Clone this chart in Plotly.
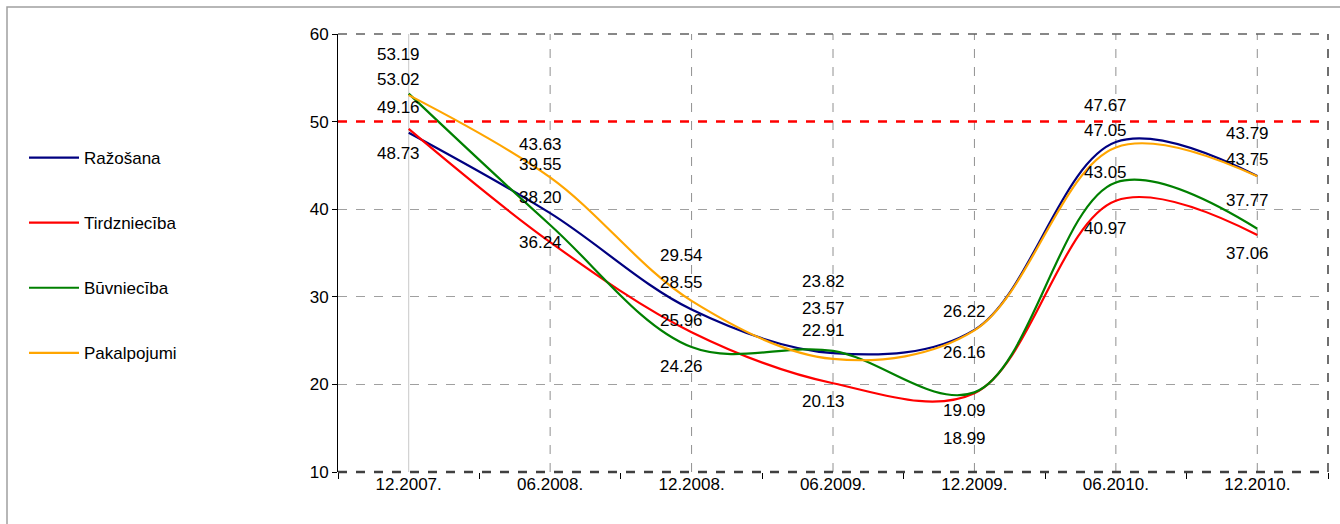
import plotly.graph_objects as go

categories = ["12.2007.", "06.2008.", "12.2008.", "06.2009.", "12.2009.", "06.2010.", "12.2010."]
razosana = [48.73, 39.55, 28.55, 23.57, 26.22, 47.67, 43.79]
tirdznieciba = [49.16, 36.24, 25.96, 20.13, 18.99, 40.97, 37.06]
buvnieciba = [53.19, 38.20, 24.26, 23.82, 19.09, 43.05, 37.77]
pakalpojumi = [53.02, 43.63, 29.54, 22.91, 26.16, 47.05, 43.75]
threshold = 50

series = [
    ("Ražošana", razosana, "#000080"),
    ("Tirdzniecība", tirdznieciba, "#FF0000"),
    ("Būvniecība", buvnieciba, "#008000"),
    ("Pakalpojumi", pakalpojumi, "#FFA500"),
]

# label vertical offsets in pixels (style only)
label_shift = {
    "Ražošana": [-21, 49, 27, 45, 18, 37, 43],
    "Tirdzniecība": [21, 0, 12, -18, -45, -28, -19],
    "Būvniecība": [39, 27, -19, 69, -18, 10, 28],
    "Pakalpojumi": [16, 33, 45, 28, -22, 17, 17],
}

FONT = "Liberation Sans, Arial, sans-serif"
FS = 17
fig = go.Figure()
for name, vals, col in series:
    fig.add_trace(go.Scatter(
        x=categories, y=vals, name=name, mode="lines",
        line=dict(color=col, width=2.2, shape="spline", smoothing=1.0),
        legendgroup=name,
    ))

annotations = []
for name, vals, col in series:
    for c, v, s in zip(categories, vals, label_shift[name]):
        annotations.append(dict(
            x=c, y=v, text=f"{v:.2f}", showarrow=False, xref="x", yref="y",
            yshift=s, xshift=-10, font=dict(family=FONT, size=FS, color="#000"),
        ))

shapes = []
for i, c in enumerate(categories):
    shapes.append(dict(type="line", xref="x", yref="paper", x0=c, x1=c, y0=0, y1=1,
                       line=dict(color="#C8C8C8" if i == 0 else "#909090", width=1,
                                 dash="solid" if i == 0 else "dash"), layer="below"))
shapes.append(dict(type="line", xref="paper", yref="paper", x0=0, x1=1, y0=1, y1=1,
                   line=dict(color="#606060", width=1.5, dash="dash")))
shapes.append(dict(type="line", xref="paper", yref="paper", x0=1, x1=1, y0=0, y1=1,
                   line=dict(color="#404040", width=1.5, dash="dash")))
shapes.append(dict(type="line", xref="paper", yref="paper", x0=0, x1=1, y0=0, y1=0,
                   line=dict(color="#404040", width=2.5, dash="dash")))
shapes.append(dict(type="line", xref="paper", yref="y", x0=0, x1=1, y0=threshold, y1=threshold,
                   line=dict(color="#FF0000", width=2.5, dash="dash")))
W, H = 1340, 524
L, R, T, B = 338, 12, 34, 52
pw, ph = W - L - R, H - T - B
shapes.append(dict(type="rect", xref="paper", yref="paper",
                   x0=(7 - L) / pw, x1=(W + 5 - L) / pw,
                   y0=(H - B - (H + 5)) / ph, y1=(H - B - 7) / ph,
                   line=dict(color="#A0A0A0", width=1.5), layer="below"))

fig.update_layout(
    width=W, height=H,
    margin=dict(l=L, r=R, t=T, b=B),
    paper_bgcolor="white", plot_bgcolor="white",
    font=dict(family=FONT, size=FS, color="#000"),
    showlegend=True,
    legend=dict(x=(24 - L) / pw, y=(H - B - 140) / ph, xanchor="left", yanchor="top",
                tracegroupgap=40, itemwidth=50, font=dict(family=FONT, size=FS),
                bgcolor="rgba(0,0,0,0)"),
    xaxis=dict(type="category", showgrid=False, showline=False, ticks="outside",
               tickson="boundaries", ticklen=6, tickcolor="#000", range=[-0.5, 6.5],
               tickfont=dict(size=FS), zeroline=False),
    yaxis=dict(range=[10, 60], dtick=10, showgrid=True, gridcolor="#A0A0A0", griddash="dash",
               showline=True, linecolor="#000", linewidth=1, ticks="outside", ticklen=5,
               tickcolor="#000", zeroline=False, tickfont=dict(size=FS)),
    shapes=shapes, annotations=annotations,
)
fig.write_html("out.html", config={"displayModeBar": False},
               post_script="document.body.style.margin='0';document.body.style.overflow='hidden';")
